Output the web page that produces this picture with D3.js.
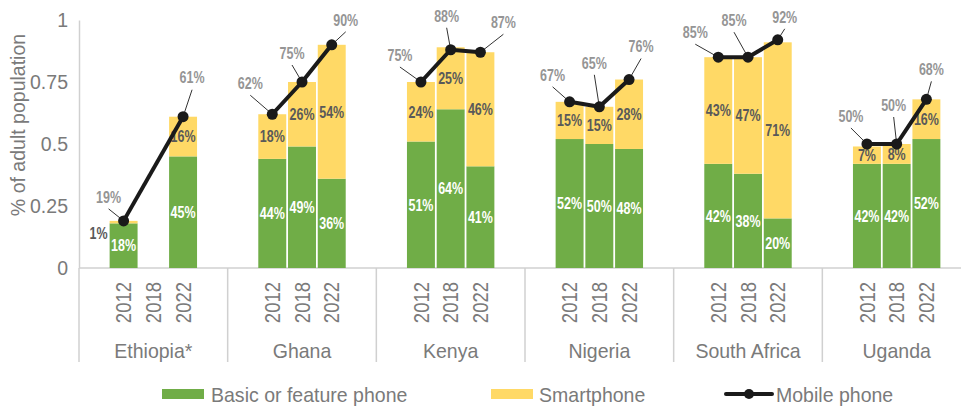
<!DOCTYPE html>
<html>
<head>
<meta charset="utf-8">
<script src="https://cdn.jsdelivr.net/npm/d3@7"></script>
<style>
  body { margin: 0; background: #fff; }
  svg { display: block; }
</style>
</head>
<body>
<script>
var w = 961, h = 407;

var countries = ["Ethiopia*", "Ghana", "Kenya", "Nigeria", "South Africa", "Uganda"];
var years = ["2012", "2018", "2022"];
// values in % of adult population, one row per country, one column per year
var basic  = [[18, null, 45], [44, 49, 36], [51, 64, 41], [52, 50, 48], [42, 38, 20], [42, 42, 52]];
var smart  = [[1, null, 16], [18, 26, 54], [24, 25, 46], [15, 15, 28], [43, 47, 71], [7, 8, 16]];
var mobile = [[19, null, 61], [62, 75, 90], [75, 88, 87], [67, 65, 76], [85, 85, 92], [50, 50, 68]];
var yTicks = [0, 0.25, 0.5, 0.75, 1];

// where the "Mobile phone" labels sit relative to their point (px)
var labelOffset = [
  [[-15, -24], null, [9, -39]],
  [[-22, -31], [-10, -29], [14, -25]],
  [[-21, -27], [-4, -34], [23, -30]],
  [[-17, -27], [-5, -44], [12, -33]],
  [[-23, -25], [-14, -37], [7, -23]],
  [[-16, -28], [-3, -39], [5, -30]]
];

var green = "#70ad47", yellow = "#ffd966", grey = "#7a7a7a", axisGrey = "#d0d0d0";
var sans = "'Liberation Sans', Arial, sans-serif";

var svg = d3.select("body").append("svg").attr("width", w).attr("height", h);

var x0 = d3.scaleBand().domain(countries).range([79, 971]);
var x1 = d3.scaleBand().domain(years).range([0, x0.bandwidth()])
    .paddingInner(0.06).paddingOuter(1.03);
var y = d3.scaleLinear().domain([0, 1]).range([268, 20]);

// flatten rows for drawing
var rows = [];
countries.forEach(function (c, i) {
  years.forEach(function (yr, j) {
    rows.push({ c: c, i: i, yr: yr, j: j,
      basic: basic[i][j], smart: smart[i][j], mobile: mobile[i][j],
      off: labelOffset[i][j],
      cx: x0(c) + x1(yr) + x1.bandwidth() / 2 });
  });
});
var present = rows.filter(function (d) { return d.basic != null; });

// condensed bold labels: squeeze Liberation Sans Bold horizontally
function narrowText(sel, fx, fy, fill) {
  return sel.enter().append("text")
    .attr("transform", function (d) { return "translate(" + fx(d) + "," + fy(d) + ") scale(0.78,1)"; })
    .attr("dy", "0.36em").attr("text-anchor", "middle")
    .attr("fill", fill)
    .style("font-family", sans).style("font-size", "16px").style("font-weight", "bold");
}

// y axis
var yAxis = svg.append("g").attr("transform", "translate(79,0)")
    .call(d3.axisLeft(y).tickValues(yTicks).tickSize(0).tickPadding(11)
      .tickFormat(function (d) { return d3.format("~g")(d); }));
yAxis.select(".domain").attr("stroke", axisGrey).attr("stroke-width", 1.5);
yAxis.selectAll(".tick text")
    .attr("fill", grey).style("font-family", sans).style("font-size", "21px")
    .attr("transform", "translate(-11,0) scale(0.93,1) translate(11,0)");

svg.append("text")
    .attr("transform", "translate(25,125) rotate(-90) scale(0.93,1)")
    .attr("text-anchor", "middle")
    .attr("fill", grey).style("font-family", sans).style("font-size", "21px")
    .text("% of adult population");

// x axis line and group separators
svg.append("line").attr("x1", 79).attr("x2", w).attr("y1", y(0)).attr("y2", y(0))
    .attr("stroke", axisGrey).attr("stroke-width", 1.5);
svg.selectAll(".sep").data(countries).enter().append("line")
    .attr("x1", function (d) { return x0(d); }).attr("x2", function (d) { return x0(d); })
    .attr("y1", y(0)).attr("y2", 362)
    .attr("stroke", axisGrey).attr("stroke-width", 1.5);

// year labels
svg.selectAll(".yr").data(rows).enter().append("text")
    .attr("transform", function (d) { return "translate(" + d.cx + ",282) rotate(-90) scale(0.86,1)"; })
    .attr("text-anchor", "end").attr("dy", "0.36em")
    .attr("fill", grey).style("font-family", sans).style("font-size", "21.5px")
    .text(function (d) { return d.yr; });

// country labels
svg.selectAll(".ctry").data(countries).enter().append("text")
    .attr("transform", function (d) { return "translate(" + (x0(d) + x0.bandwidth() / 2) + ",358) scale(0.93,1)"; })
    .attr("text-anchor", "middle")
    .attr("fill", grey).style("font-family", sans).style("font-size", "21px")
    .text(function (d) { return d; });

// stacked bars
var bw = x1.bandwidth();
svg.selectAll(".bb").data(present).enter().append("rect")
    .attr("x", function (d) { return d.cx - bw / 2; })
    .attr("y", function (d) { return y(d.basic / 100); })
    .attr("width", bw)
    .attr("height", function (d) { return y(0) - y(d.basic / 100); })
    .attr("fill", green);
svg.selectAll(".sb").data(present).enter().append("rect")
    .attr("x", function (d) { return d.cx - bw / 2; })
    .attr("y", function (d) { return y((d.basic + d.smart) / 100); })
    .attr("width", bw)
    .attr("height", function (d) { return y(d.basic / 100) - y((d.basic + d.smart) / 100); })
    .attr("fill", yellow);

// segment labels
narrowText(svg.selectAll(".bl").data(present),
    function (d) { return d.cx; },
    function (d) { return y(d.basic / 200); }, "#fff")
  .text(function (d) { return d.basic + "%"; });
narrowText(svg.selectAll(".sl").data(present),
    function (d) { return d.smart < 5 ? d.cx - bw / 2 - 11 : d.cx; },
    function (d) { return y((d.basic + d.smart / 2) / 100) + (d.smart < 5 ? 11 : 0); }, "#595959")
  .text(function (d) { return d.smart + "%"; });

// mobile phone line, one per country
var line = d3.line().x(function (d) { return d.cx; }).y(function (d) { return y(d.mobile / 100); });
countries.forEach(function (c) {
  var pts = present.filter(function (d) { return d.c === c; });
  svg.append("path").datum(pts).attr("d", line)
      .attr("fill", "none").attr("stroke", "#1a1a1a").attr("stroke-width", 4).attr("stroke-linejoin", "round");
});

// leader lines and labels
svg.selectAll(".ld").data(present).enter().append("line")
    .each(function (d) {
      var px = d.cx, py = y(d.mobile / 100);
      var tx = px + d.off[0], ty = py + d.off[1] + 12;
      var len = Math.hypot(tx - px, ty - py);
      d3.select(this)
        .attr("x1", px + (tx - px) * 4 / len).attr("y1", py + (ty - py) * 4 / len)
        .attr("x2", tx).attr("y2", ty);
    })
    .attr("stroke", "#333").attr("stroke-width", 1);

svg.selectAll(".dot").data(present).enter().append("circle")
    .attr("cx", function (d) { return d.cx; })
    .attr("cy", function (d) { return y(d.mobile / 100); })
    .attr("r", 5.5).attr("fill", "#1a1a1a");

narrowText(svg.selectAll(".ml").data(present),
    function (d) { return d.cx + d.off[0]; },
    function (d) { return y(d.mobile / 100) + d.off[1]; }, "#959595")
  .text(function (d) { return d.mobile + "%"; });

// legend
var legend = svg.append("g").style("font-family", sans).style("font-size", "21px");
function legendText(x, t) {
  legend.append("text").attr("transform", "translate(" + x + ",394) scale(0.93,1)")
      .attr("dy", "0.36em").attr("fill", grey).text(t);
}
legend.append("rect").attr("x", 162).attr("y", 389).attr("width", 42).attr("height", 10).attr("fill", green);
legendText(211, "Basic or feature phone");
legend.append("rect").attr("x", 491).attr("y", 389).attr("width", 42).attr("height", 10).attr("fill", yellow);
legendText(539, "Smartphone");
legend.append("line").attr("x1", 726).attr("x2", 772).attr("y1", 394).attr("y2", 394)
    .attr("stroke", "#1a1a1a").attr("stroke-width", 4).attr("stroke-linecap", "round");
legend.append("circle").attr("cx", 749).attr("cy", 394).attr("r", 5).attr("fill", "#1a1a1a");
legendText(776, "Mobile phone");
</script>
</body>
</html>
